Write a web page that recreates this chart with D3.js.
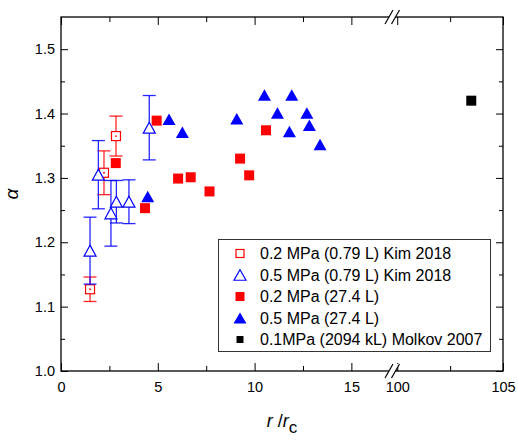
<!DOCTYPE html>
<html>
<head>
<meta charset="utf-8">
<script src="https://cdn.jsdelivr.net/npm/d3@7"></script>
<style>
  html, body { margin: 0; padding: 0; background: #fff; }
  svg { display: block; font-family: "Liberation Sans", Arial, sans-serif; }
</style>
</head>
<body>
<svg id="chart" width="518" height="443"></svg>
<script>
// ---------------- data ----------------
const kim02X   = [1.50, 2.22, 2.84];
const kim02Y   = [1.127, 1.308, 1.365];
const kim02Err = [0.019, 0.034, 0.031];

const kim05X   = [1.50, 1.93, 2.58, 2.86, 3.51, 4.56];
const kim05Y   = [1.187, 1.305, 1.245, 1.263, 1.263, 1.378];
const kim05Err = [0.052, 0.053, 0.051, 0.033, 0.034, 0.050];

const big02X = [2.83, 4.34, 4.94, 6.05, 6.70, 7.67, 9.25, 9.72, 10.59];
const big02Y = [1.323, 1.253, 1.389, 1.299, 1.301, 1.279, 1.330, 1.304, 1.374];

const big05X = [4.48, 5.58, 6.27, 9.08, 10.51, 11.18, 11.80, 11.92, 12.70, 12.83, 13.38];
const big05Y = [1.271, 1.391, 1.371, 1.392, 1.429, 1.401, 1.372, 1.429, 1.401, 1.382, 1.352];

const molkovX = [103.5];
const molkovY = [1.42];

const xMajorTicks = [0, 5, 10, 15, 100, 105];
const xMinorTicks = [2.5, 7.5, 12.5, 102.5];
const yMajorTicks = [1.0, 1.1, 1.2, 1.3, 1.4, 1.5];
const yMinorTicks = [1.05, 1.15, 1.25, 1.35, 1.45];

const legendLabels = [
  "0.2 MPa (0.79 L) Kim 2018",
  "0.5 MPa (0.79 L) Kim 2018",
  "0.2 MPa (27.4 L)",
  "0.5 MPa (27.4 L)",
  "0.1MPa (2094 kL) Molkov 2007"
];

// ---------------- layout ----------------
const L = 61, R = 503, T = 17, B = 371;
const svg = d3.select("#chart");

// broken x axis: [0, 17.15] and [99.8, 105]
const x = d3.scaleLinear().domain([0, 17.15, 99.8, 105]).range([L, 393, 393, R]);
const y = d3.scaleLinear().domain([1.0, 1.55]).range([B, T]);

const RED = "#ff0000", BLUE = "#0000ff";

// ---------------- axes ----------------
function styleAxis(g) {
  g.select(".domain").remove();
  g.selectAll(".tick line").attr("stroke", "#000").attr("stroke-width", 1);
  g.selectAll(".tick text").attr("fill", "#000").attr("font-size", 14.5)
    .attr("font-family", "'Liberation Sans', Arial, sans-serif");
}

svg.append("g").attr("transform", `translate(0,${B})`)
  .call(d3.axisBottom(x).tickValues(xMajorTicks).tickSize(-8).tickPadding(11).tickFormat(d3.format("d")))
  .call(styleAxis);
svg.append("g").attr("transform", `translate(0,${B})`)
  .call(d3.axisBottom(x).tickValues(xMinorTicks).tickSize(-5).tickFormat(""))
  .call(styleAxis);
svg.append("g").attr("transform", `translate(0,${T})`)
  .call(d3.axisTop(x).tickValues(xMajorTicks).tickSize(-8).tickFormat(""))
  .call(styleAxis);
svg.append("g").attr("transform", `translate(0,${T})`)
  .call(d3.axisTop(x).tickValues(xMinorTicks).tickSize(-5).tickFormat(""))
  .call(styleAxis);

svg.append("g").attr("transform", `translate(${L},0)`)
  .call(d3.axisLeft(y).tickValues(yMajorTicks).tickSize(-7).tickPadding(6).tickFormat(d3.format(".1f")))
  .call(styleAxis);
svg.append("g").attr("transform", `translate(${L},0)`)
  .call(d3.axisLeft(y).tickValues(yMinorTicks).tickSize(-4).tickFormat(""))
  .call(styleAxis);
svg.append("g").attr("transform", `translate(${R},0)`)
  .call(d3.axisRight(y).tickValues(yMajorTicks).tickSize(-7).tickFormat(""))
  .call(styleAxis);
svg.append("g").attr("transform", `translate(${R},0)`)
  .call(d3.axisRight(y).tickValues(yMinorTicks).tickSize(-4).tickFormat(""))
  .call(styleAxis);

// frame
svg.append("rect").attr("x", L).attr("y", T).attr("width", R - L).attr("height", B - T)
  .attr("fill", "none").attr("stroke", "#000").attr("stroke-width", 1.3);

// break marks
[T, B].forEach(yy => {
  const c1 = 389, c2 = 395.5, dx = 4, dy = 7;
  svg.append("polygon")
    .attr("points", `${c1 - dx},${yy + dy} ${c1 + dx},${yy - dy} ${c2 + dx},${yy - dy} ${c2 - dx},${yy + dy}`)
    .attr("fill", "#fff");
  [c1, c2].forEach(c => {
    svg.append("line").attr("x1", c - dx).attr("y1", yy + dy).attr("x2", c + dx).attr("y2", yy - dy)
      .attr("stroke", "#000").attr("stroke-width", 1.2);
  });
});

// axis titles
svg.append("text").attr("transform", "translate(18,194) rotate(-90)")
  .attr("text-anchor", "middle").attr("font-size", 19).attr("font-style", "italic")
  .text("α");

const xt = svg.append("text").attr("x", 282).attr("y", 427).attr("text-anchor", "middle").attr("font-size", 18);
xt.append("tspan").attr("font-style", "italic").text("r");
xt.append("tspan").text(" /");
xt.append("tspan").attr("font-style", "italic").text("r");
xt.append("tspan").attr("dy", 6).attr("font-size", 17).text("c");

// ---------------- marks ----------------
function triPath(w, h) {
  return `M0,${-h / 2}L${w / 2},${h / 2}L${-w / 2},${h / 2}Z`;
}
const plot = svg.append("g");

function errorBars(xs, ys, es, color) {
  const g = plot.append("g").attr("stroke", color).attr("stroke-width", 1.3).attr("stroke-opacity", 0.85);
  xs.forEach((xv, i) => {
    const cx = x(xv), y1 = y(ys[i] + es[i]), y2 = y(ys[i] - es[i]);
    g.append("line").attr("x1", cx).attr("x2", cx).attr("y1", y1).attr("y2", y2);
    g.append("line").attr("x1", cx - 6.5).attr("x2", cx + 6.5).attr("y1", y1).attr("y2", y1);
    g.append("line").attr("x1", cx - 6.5).attr("x2", cx + 6.5).attr("y1", y2).attr("y2", y2);
  });
}

// Kim 0.2 MPa (open red squares with error bars)
errorBars(kim02X, kim02Y, kim02Err, RED);
kim02X.forEach((xv, i) => {
  plot.append("rect").attr("x", x(xv) - 4.5).attr("y", y(kim02Y[i]) - 4.5).attr("width", 9).attr("height", 9)
    .attr("fill", "#fff").attr("stroke", RED).attr("stroke-width", 1.2);
  plot.append("circle").attr("cx", x(xv)).attr("cy", y(kim02Y[i])).attr("r", 0.9).attr("fill", RED);
});

// Kim 0.5 MPa (open blue triangles with error bars)
errorBars(kim05X, kim05Y, kim05Err, BLUE);
kim05X.forEach((xv, i) => {
  plot.append("path").attr("d", triPath(12, 11))
    .attr("transform", `translate(${x(xv)},${y(kim05Y[i])})`)
    .attr("fill", "#fff").attr("stroke", BLUE).attr("stroke-width", 1.2);
});

// 27.4 L, 0.2 MPa (filled red squares)
big02X.forEach((xv, i) => {
  plot.append("rect").attr("x", x(xv) - 5).attr("y", y(big02Y[i]) - 5).attr("width", 10).attr("height", 10)
    .attr("fill", RED);
});

// 27.4 L, 0.5 MPa (filled blue triangles)
big05X.forEach((xv, i) => {
  plot.append("path").attr("d", triPath(13, 11.5))
    .attr("transform", `translate(${x(xv)},${y(big05Y[i])})`)
    .attr("fill", BLUE);
});

// Molkov (black square)
molkovX.forEach((xv, i) => {
  plot.append("rect").attr("x", x(xv) - 5).attr("y", y(molkovY[i]) - 5).attr("width", 10).attr("height", 10)
    .attr("fill", "#000");
});

// ---------------- legend ----------------
const lg = svg.append("g");
lg.append("rect").attr("x", 218.5).attr("y", 239.5).attr("width", 272).attr("height", 112)
  .attr("fill", "#fff").attr("stroke", "#333").attr("stroke-width", 1);
const ly0 = 253.5, ldy = 21.5, lmx = 240, ltx = 260;
legendLabels.forEach((t, i) => {
  const yy = ly0 + i * ldy;
  if (i === 0) {
    lg.append("rect").attr("x", lmx - 4).attr("y", yy - 4).attr("width", 8).attr("height", 8)
      .attr("fill", "#fff").attr("stroke", RED).attr("stroke-width", 1.2);
  } else if (i === 1) {
    lg.append("path").attr("d", triPath(12, 10.5)).attr("transform", `translate(${lmx},${yy})`)
      .attr("fill", "#fff").attr("stroke", BLUE).attr("stroke-width", 1.2);
  } else if (i === 2) {
    lg.append("rect").attr("x", lmx - 4.5).attr("y", yy - 4.5).attr("width", 9).attr("height", 9).attr("fill", RED);
  } else if (i === 3) {
    lg.append("path").attr("d", triPath(13, 11)).attr("transform", `translate(${lmx},${yy})`).attr("fill", BLUE);
  } else {
    lg.append("rect").attr("x", lmx - 3.5).attr("y", yy - 3.5).attr("width", 7).attr("height", 7).attr("fill", "#000");
  }
  lg.append("text").attr("x", ltx).attr("y", yy).attr("dy", "0.36em").attr("font-size", 16).text(t);
});
</script>
</body>
</html>
